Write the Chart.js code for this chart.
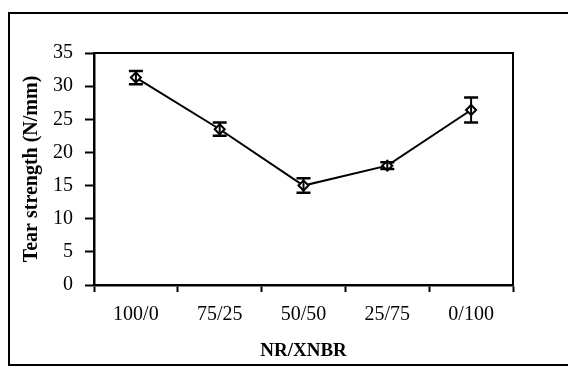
<!DOCTYPE html>
<html>
<head>
<meta charset="utf-8">
<script src="https://cdn.jsdelivr.net/npm/chart.js@4"></script>
<style>
  html, body { margin: 0; padding: 0; background: #fff; }
  #wrap { width: 568px; height: 370px; position: relative; }
</style>
</head>
<body>
<div id="wrap"><canvas id="c" width="568" height="370"></canvas></div>
<script>
// Blend ratios and measured tear strength
const blends = ['100/0', '75/25', '50/50', '25/75', '0/100'];
const tearStrength = [31.3, 23.5, 15.0, 18.0, 26.4];
const tearError = [1.0, 1.0, 1.1, 0.5, 1.9];
const yTicks = [0, 5, 10, 15, 20, 25, 30, 35];

const SERIF = "'Liberation Serif', 'Times New Roman', serif";

// White page with an outer frame around the figure
const framePlugin = {
  id: 'frame',
  beforeDraw(chart) {
    const ctx = chart.ctx;
    ctx.save();
    ctx.fillStyle = '#fff';
    ctx.fillRect(0, 0, chart.width, chart.height);
    ctx.strokeStyle = '#000';
    ctx.lineWidth = 2;
    ctx.strokeRect(9, 13, 620, 352);
    ctx.restore();
  },
  afterDraw(chart) {
    // top and right edges of the plot box
    const a = chart.chartArea;
    const ctx = chart.ctx;
    ctx.save();
    ctx.strokeStyle = '#000';
    ctx.lineWidth = 2;
    ctx.beginPath();
    ctx.moveTo(a.left, a.top);
    ctx.lineTo(a.right, a.top);
    ctx.lineTo(a.right, a.bottom);
    ctx.stroke();
    ctx.restore();
  }
};

// Vertical error bars with caps
const errorBarPlugin = {
  id: 'errorBars',
  afterDatasetsDraw(chart) {
    const xs = chart.scales.x, ys = chart.scales.y;
    const ctx = chart.ctx;
    ctx.save();
    ctx.strokeStyle = '#000';
    tearStrength.forEach((v, i) => {
      const x = xs.getPixelForValue(i);
      const yt = ys.getPixelForValue(v + tearError[i]);
      const yb = ys.getPixelForValue(v - tearError[i]);
      const cap = 7;
      ctx.lineWidth = 2;
      ctx.beginPath();
      ctx.moveTo(x, yt); ctx.lineTo(x, yb);
      ctx.stroke();
      ctx.lineWidth = 2.5;
      ctx.beginPath();
      ctx.moveTo(x - cap, yt); ctx.lineTo(x + cap, yt);
      ctx.moveTo(x - cap, yb); ctx.lineTo(x + cap, yb);
      ctx.stroke();
    });
    ctx.restore();
  }
};

new Chart(document.getElementById('c'), {
  type: 'line',
  data: {
    labels: blends,
    datasets: [{
      data: tearStrength,
      borderColor: '#000',
      borderWidth: 2,
      pointStyle: 'rectRot',
      pointRadius: 5,
      pointBorderWidth: 2,
      pointBorderColor: '#000',
      pointBackgroundColor: '#fff',
      tension: 0,
      fill: false
    }]
  },
  options: {
    responsive: false,
    animation: false,
    devicePixelRatio: 1,
    layout: { padding: { left: 0, right: 55, top: 53, bottom: 0 } },
    plugins: { legend: { display: false }, tooltip: { enabled: false } },
    scales: {
      x: {
        type: 'category',
        offset: true,
        afterFit: s => { s.height = 85; },
        grid: {
          offset: true,
          drawOnChartArea: false,
          drawTicks: true,
          tickLength: 7,
          tickWidth: 2,
          tickColor: '#000'
        },
        border: { display: true, color: '#000', width: 2.5 },
        ticks: {
          color: '#000',
          padding: 11,
          maxRotation: 0,
          font: { family: SERIF, size: 20 }
        },
        title: {
          display: true,
          text: 'NR/XNBR',
          color: '#000',
          padding: { top: 0, bottom: 8 },
          font: { family: SERIF, size: 19, weight: 'bold' }
        }
      },
      y: {
        min: 0,
        max: 35,
        afterFit: s => { s.width = 94; },
        afterBuildTicks: s => { s.ticks = yTicks.map(v => ({ value: v })); },
        grid: {
          drawOnChartArea: false,
          drawTicks: true,
          tickLength: 9,
          tickWidth: 2,
          tickColor: '#000'
        },
        border: { display: true, color: '#000', width: 2.5 },
        ticks: {
          color: '#000',
          padding: 12,
          font: { family: SERIF, size: 20 }
        },
        title: {
          display: true,
          text: 'Tear strength (N/mm)',
          color: '#000',
          padding: { top: 20, bottom: 0 },
          font: { family: SERIF, size: 20, weight: 'bold' }
        }
      }
    }
  },
  plugins: [framePlugin, errorBarPlugin]
});
</script>
</body>
</html>
